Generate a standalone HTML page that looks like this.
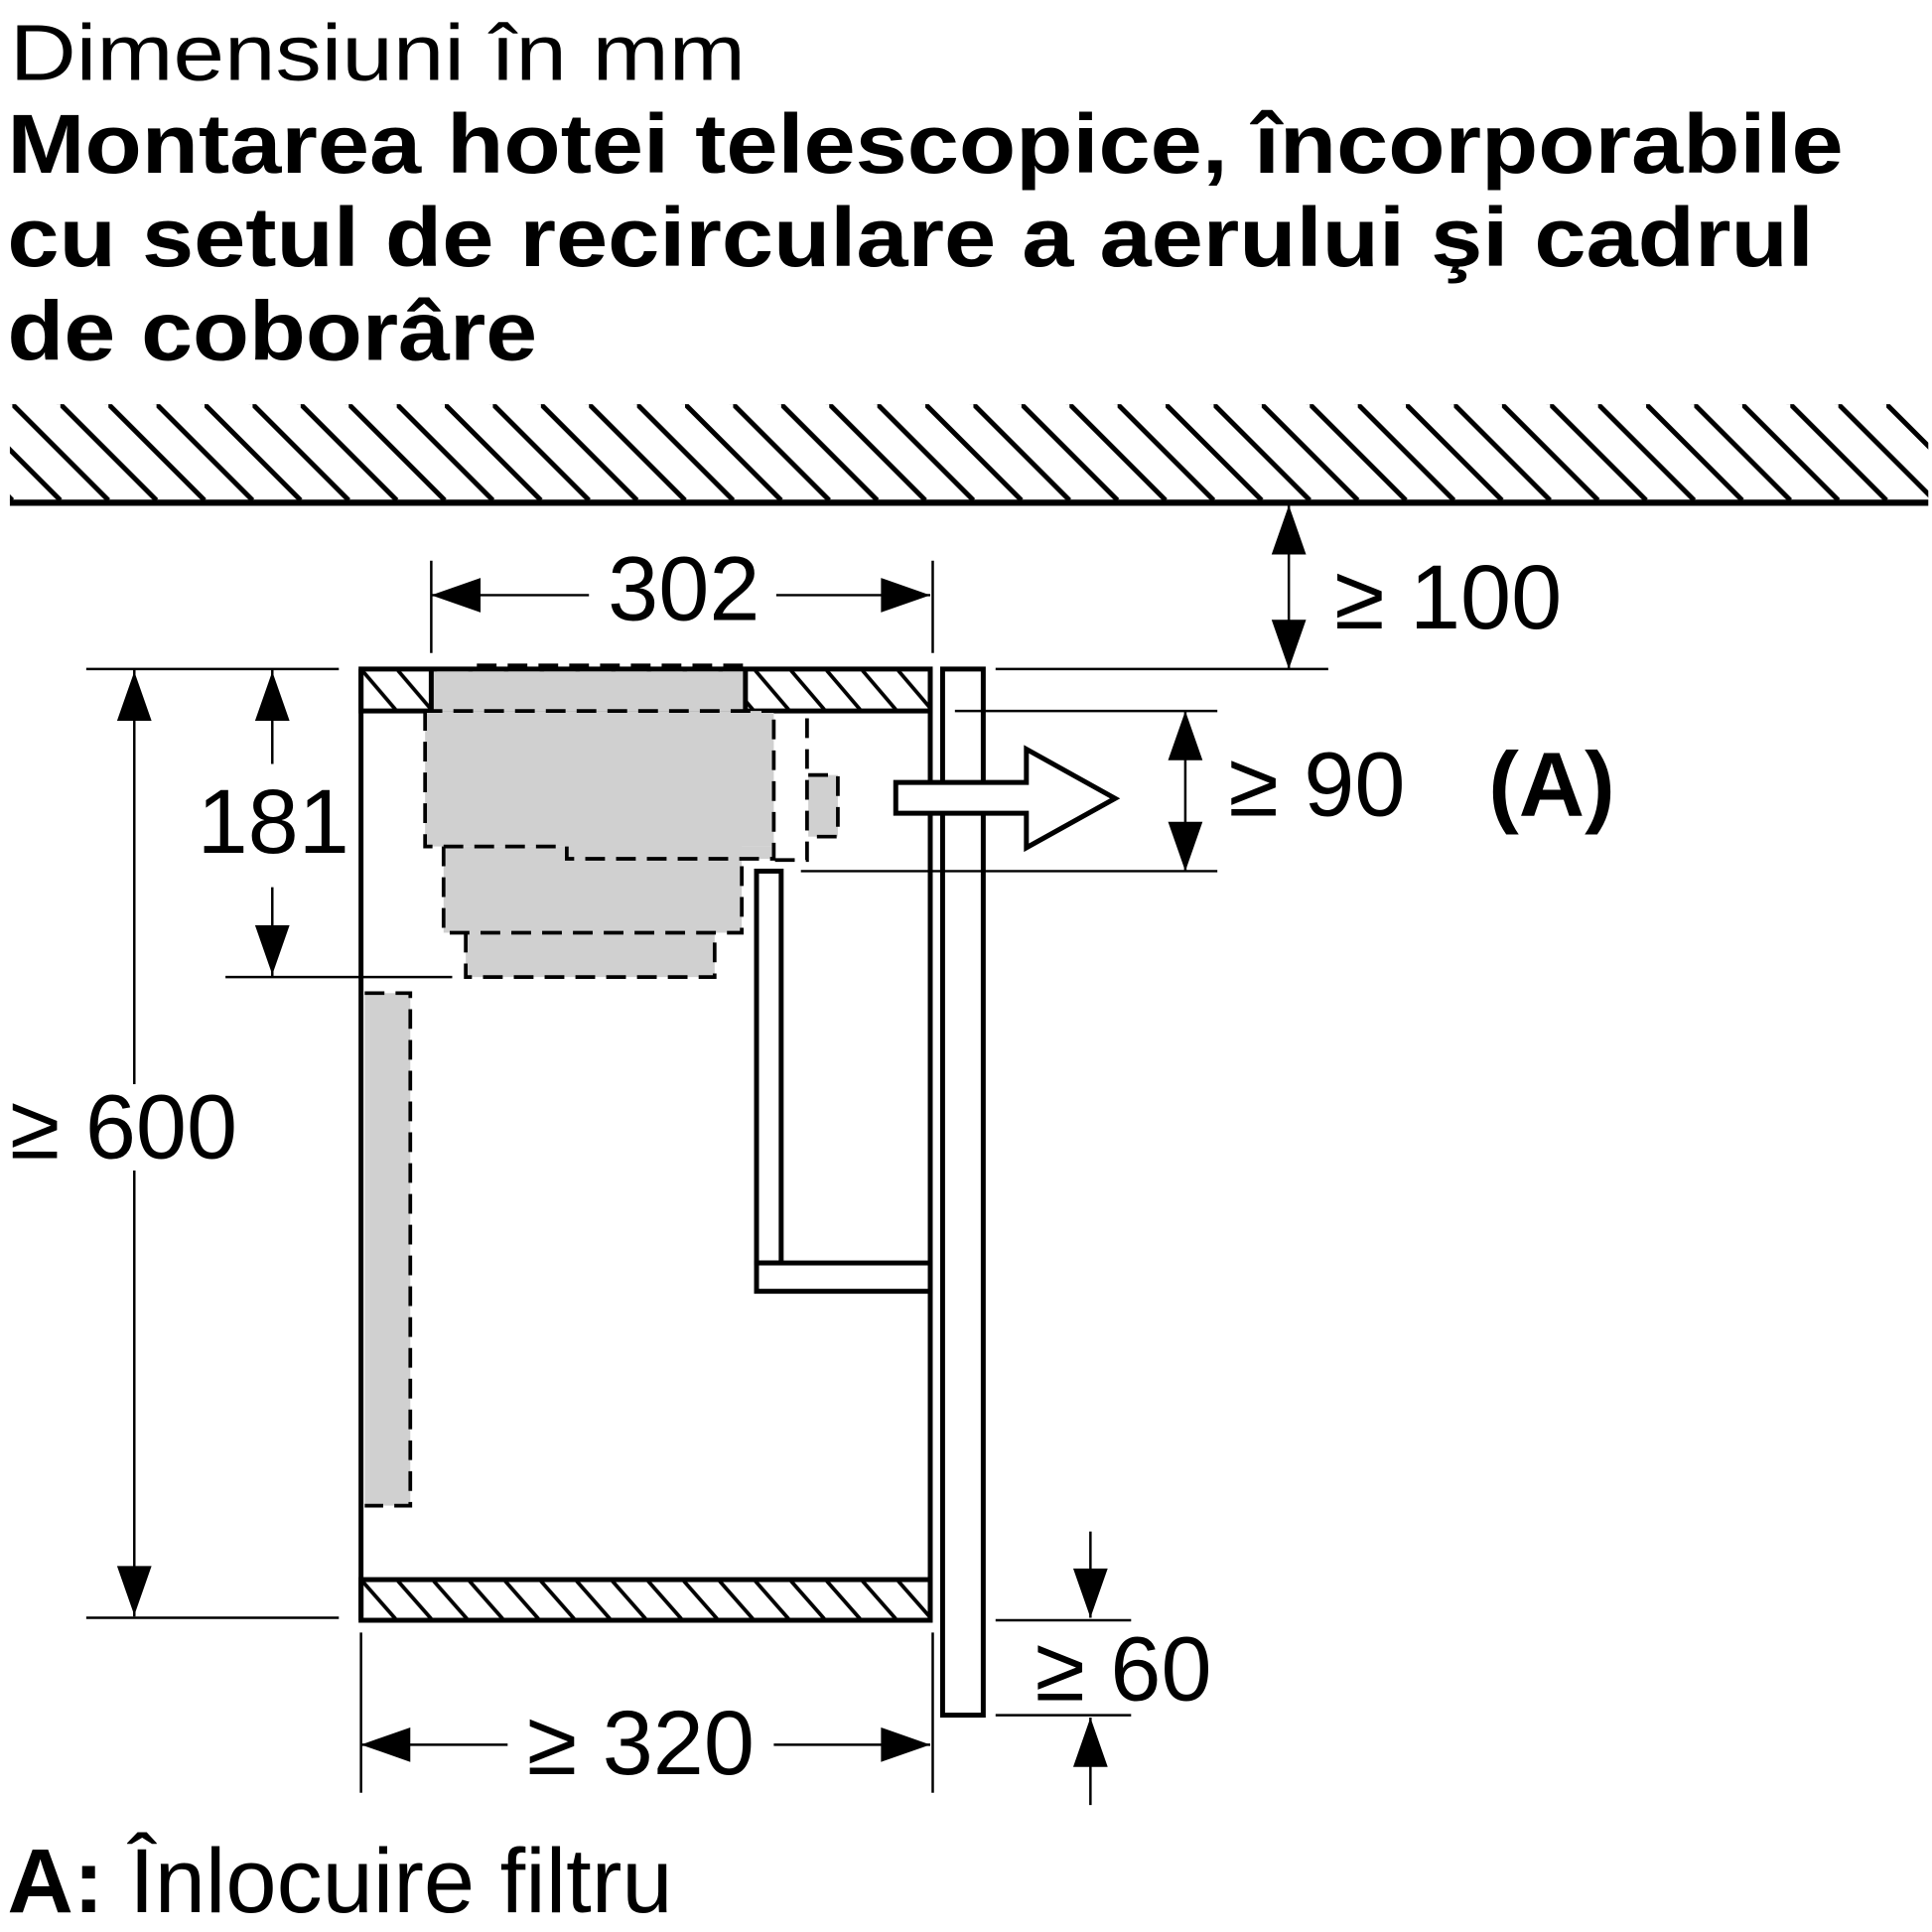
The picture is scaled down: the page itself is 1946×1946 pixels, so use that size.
<!DOCTYPE html>
<html><head><meta charset="utf-8"><style>
html,body{margin:0;padding:0;background:#fff}
svg{display:block}
text{font-family:"Liberation Sans",sans-serif;fill:#000}
</style></head><body>
<svg width="1946" height="1946" viewBox="0 0 1568 1568" xmlns="http://www.w3.org/2000/svg">
<defs>
<pattern id="h" patternUnits="userSpaceOnUse" width="39" height="78" x="10" y="328">
<line x1="0" y1="0" x2="78" y2="78" stroke="#000" stroke-width="4"/>
<line x1="-39" y1="0" x2="39" y2="78" stroke="#000" stroke-width="4"/>
<line x1="-78" y1="0" x2="0" y2="78" stroke="#000" stroke-width="4"/>
</pattern>
<pattern id="h2" patternUnits="userSpaceOnUse" width="29" height="34" x="293" y="543">
<line x1="0" y1="0" x2="29" y2="34" stroke="#000" stroke-width="3"/>
<line x1="-29" y1="0" x2="0" y2="34" stroke="#000" stroke-width="3"/>
</pattern>
<pattern id="h3" patternUnits="userSpaceOnUse" width="29" height="33" x="293" y="1282">
<line x1="0" y1="0" x2="29" y2="33" stroke="#000" stroke-width="3"/>
<line x1="-29" y1="0" x2="0" y2="33" stroke="#000" stroke-width="3"/>
</pattern>
</defs>
<text x="8" y="65" font-size="64" textLength="597" lengthAdjust="spacingAndGlyphs">Dimensiuni în mm</text>
<text x="6" y="140" font-size="68" font-weight="bold" textLength="1490" lengthAdjust="spacingAndGlyphs">Montarea hotei telescopice, încorporabile</text>
<text x="6" y="216" font-size="68" font-weight="bold" textLength="1466" lengthAdjust="spacingAndGlyphs">cu setul de recirculare a aerului şi cadrul</text>
<text x="6" y="292" font-size="68" font-weight="bold" textLength="430" lengthAdjust="spacingAndGlyphs">de coborâre</text>
<!-- ceiling -->
<rect x="8" y="328" width="1557" height="78" fill="url(#h)"/>
<line x1="8" y1="408" x2="1565" y2="408" stroke="#000" stroke-width="5"/>
<!-- cabinet panels -->
<rect x="293" y="543" width="462" height="34" fill="url(#h2)" stroke="#000" stroke-width="4"/>
<rect x="293" y="1282" width="462" height="33" fill="url(#h3)" stroke="#000" stroke-width="4"/>
<line x1="293" y1="543" x2="293" y2="1315" stroke="#000" stroke-width="4"/>
<line x1="755" y1="543" x2="755" y2="1315" stroke="#000" stroke-width="4"/>
<!-- gray fills -->
<g fill="#d0d0d0">
<rect x="350" y="545" width="255" height="32"/>
<rect x="345" y="577" width="283" height="110"/>
<rect x="460" y="687" width="168" height="10"/>
<rect x="360" y="687" width="242" height="70"/>
<rect x="378" y="757" width="202" height="36"/>
<rect x="656" y="629" width="24" height="50"/>
<rect x="296" y="806" width="37" height="416"/>
</g>
<g fill="none" stroke="#000" stroke-width="3" stroke-dasharray="16,9">
<path d="M345 577 L345 687 L460 687 L460 697 L628 697 L628 577"/>
<path d="M360 687 L360 757 L602 757 L602 697"/>
<path d="M378 757 L378 793 L580 793 L580 757"/>
<path d="M387 540 L605 540"/>
<path d="M655 583 L655 698 L628 698"/>
<path d="M656 629 L680 629 L680 679 L656 679"/>
<path d="M296 806 L333 806 L333 1222 L296 1222"/>
<line x1="293" y1="577" x2="755" y2="577"/>
</g>
<line x1="350" y1="543" x2="350" y2="577" stroke="#000" stroke-width="4"/>
<line x1="605" y1="543" x2="605" y2="577" stroke="#000" stroke-width="4"/>
<!-- inner panel -->
<rect x="614" y="707" width="20" height="318" fill="#fff" stroke="#000" stroke-width="4"/>
<rect x="614" y="1025" width="141" height="23" fill="#fff" stroke="#000" stroke-width="4"/>
<!-- door -->
<rect x="765" y="543" width="33" height="849" fill="#fff" stroke="#000" stroke-width="4"/>
<!-- airflow arrow -->
<polygon points="727,635 833,635 833,608 905,648 833,688 833,660 727,660" fill="#fff" stroke="#000" stroke-width="4"/>
<!-- dimension lines -->
<g stroke="#000" stroke-width="2">
<line x1="350" y1="455" x2="350" y2="530"/><line x1="757" y1="455" x2="757" y2="530"/>
<line x1="350" y1="483" x2="478" y2="483"/><line x1="630" y1="483" x2="755" y2="483"/>
<line x1="1046" y1="410" x2="1046" y2="543"/><line x1="808" y1="543" x2="1078" y2="543"/>
<line x1="775" y1="577" x2="988" y2="577"/><line x1="650" y1="707" x2="988" y2="707"/>
<line x1="962" y1="577" x2="962" y2="707"/>
<line x1="70" y1="543" x2="275" y2="543"/><line x1="183" y1="793" x2="367" y2="793"/>
<line x1="221" y1="543" x2="221" y2="620"/><line x1="221" y1="720" x2="221" y2="793"/>
<line x1="109" y1="543" x2="109" y2="880"/><line x1="109" y1="950" x2="109" y2="1312"/>
<line x1="70" y1="1313" x2="275" y2="1313"/>
<line x1="293" y1="1325" x2="293" y2="1455"/><line x1="757" y1="1325" x2="757" y2="1455"/>
<line x1="293" y1="1416" x2="412" y2="1416"/><line x1="628" y1="1416" x2="755" y2="1416"/>
<line x1="808" y1="1315" x2="918" y2="1315"/><line x1="808" y1="1392" x2="918" y2="1392"/>
<line x1="885" y1="1243" x2="885" y2="1313"/><line x1="885" y1="1394" x2="885" y2="1465"/>
</g>
<g fill="#000">
<polygon points="350,483 390,469 390,497"/><polygon points="755,483 715,469 715,497"/>
<polygon points="1046,410 1032,450 1060,450"/><polygon points="1046,543 1032,503 1060,503"/>
<polygon points="962,577 948,617 976,617"/><polygon points="962,707 948,667 976,667"/>
<polygon points="221,545 207,585 235,585"/><polygon points="221,791 207,751 235,751"/>
<polygon points="109,545 95,585 123,585"/><polygon points="109,1311 95,1271 123,1271"/>
<polygon points="293,1416 333,1402 333,1430"/><polygon points="755,1416 715,1402 715,1430"/>
<polygon points="885,1313 871,1273 899,1273"/><polygon points="885,1394 871,1434 899,1434"/>
</g>
<g font-size="74">
<rect x="0" y="880" width="200" height="70" fill="#fff"/>
<text x="555" y="503" text-anchor="middle">302</text>
<text x="1083" y="510">≥ 100</text>
<text x="997" y="662">≥ 90</text>
<text x="1208" y="662" font-weight="bold">(A)</text>
<text x="160" y="692">181</text>
<text x="8" y="940">≥ 600</text>
<text x="520" y="1440" text-anchor="middle">≥ 320</text>
<text x="840" y="1380">≥ 60</text>
<text x="6" y="1552" textLength="540" lengthAdjust="spacingAndGlyphs"><tspan font-weight="bold">A:</tspan> Înlocuire filtru</text>
</g>
</svg>
</body></html>
